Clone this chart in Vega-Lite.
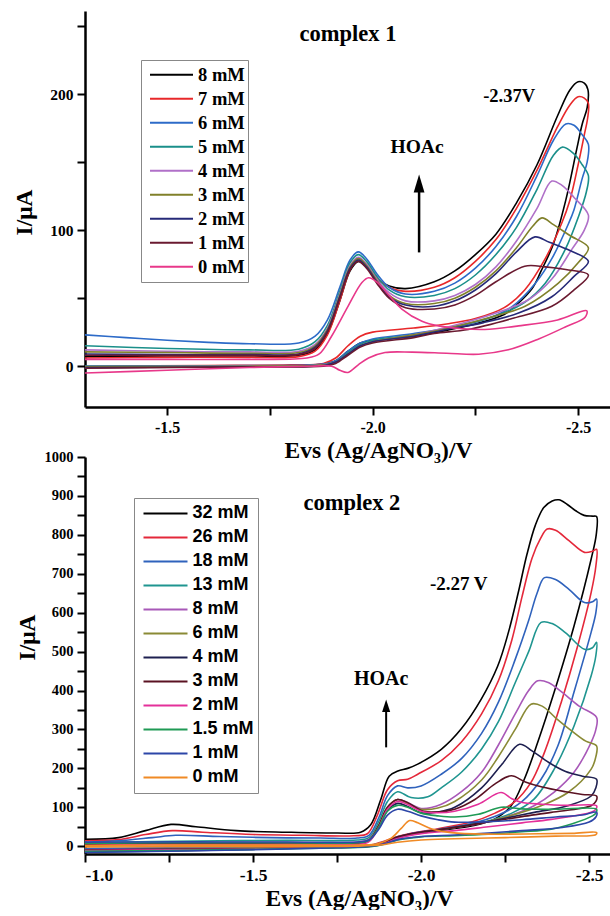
{
 "$schema": "https://vega.github.io/schema/vega-lite/v6.json",
 "background": "white",
 "autosize": {"type": "pad"},
 "padding": {"left": 12, "top": 11, "right": 0, "bottom": 0},
 "bounds": "flush",
 "spacing": 50,
 "resolve": {"scale": {"color": "independent"}, "legend": {"color": "independent"}},
 "config": {
  "view": {"stroke": null},
  "axis": {"grid": false, "domainColor": "#000", "domainWidth": 2.5, "tickColor": "#000", "tickWidth": 2, "tickSize": 8, "labelColor": "#000", "labelFont": "Liberation Serif", "labelFontWeight": "bold", "labelPadding": 4, "titleColor": "#000", "titleFont": "Liberation Serif", "titleFontWeight": "bold", "titleFontSize": 23.5}
 },
 "datasets": {
  "c1": [
{"s":"8 mM","E":-1.3,"I":7},{"s":"8 mM","E":-1.5,"I":7.5},{"s":"8 mM","E":-1.7,"I":7.5},{"s":"8 mM","E":-1.82,"I":8},{"s":"8 mM","E":-1.86,"I":12},{"s":"8 mM","E":-1.89,"I":24},{"s":"8 mM","E":-1.92,"I":48},{"s":"8 mM","E":-1.945,"I":70},{"s":"8 mM","E":-1.965,"I":77},{"s":"8 mM","E":-1.985,"I":73},{"s":"8 mM","E":-2.01,"I":64},{"s":"8 mM","E":-2.04,"I":59},{"s":"8 mM","E":-2.08,"I":57},{"s":"8 mM","E":-2.15,"I":62},{"s":"8 mM","E":-2.2,"I":70},{"s":"8 mM","E":-2.25,"I":82},{"s":"8 mM","E":-2.3,"I":97},{"s":"8 mM","E":-2.35,"I":120},{"s":"8 mM","E":-2.4,"I":148},{"s":"8 mM","E":-2.45,"I":184},{"s":"8 mM","E":-2.48,"I":203},{"s":"8 mM","E":-2.5,"I":209},{"s":"8 mM","E":-2.515,"I":208},{"s":"8 mM","E":-2.524,"I":203},
{"s":"8 mM","E":-2.522,"I":190},{"s":"8 mM","E":-2.51,"I":178},{"s":"8 mM","E":-2.497,"I":160},{"s":"8 mM","E":-2.47,"I":122},{"s":"8 mM","E":-2.44,"I":90},{"s":"8 mM","E":-2.41,"I":70},{"s":"8 mM","E":-2.388,"I":57},{"s":"8 mM","E":-2.35,"I":45},{"s":"8 mM","E":-2.32,"I":38},{"s":"8 mM","E":-2.25,"I":31},{"s":"8 mM","E":-2.19,"I":27},{"s":"8 mM","E":-2.1,"I":22},{"s":"8 mM","E":-2.0,"I":19},{"s":"8 mM","E":-1.97,"I":17},{"s":"8 mM","E":-1.94,"I":11},{"s":"8 mM","E":-1.91,"I":4},{"s":"8 mM","E":-1.88,"I":1.5},{"s":"8 mM","E":-1.8,"I":0},{"s":"8 mM","E":-1.6,"I":-0.5},{"s":"8 mM","E":-1.3,"I":-1},
{"s":"7 mM","E":-1.3,"I":6},{"s":"7 mM","E":-1.5,"I":6.5},{"s":"7 mM","E":-1.7,"I":6.5},{"s":"7 mM","E":-1.82,"I":7},{"s":"7 mM","E":-1.86,"I":11},{"s":"7 mM","E":-1.89,"I":23},{"s":"7 mM","E":-1.92,"I":48},{"s":"7 mM","E":-1.945,"I":71},{"s":"7 mM","E":-1.965,"I":79},{"s":"7 mM","E":-1.985,"I":75},{"s":"7 mM","E":-2.01,"I":65},{"s":"7 mM","E":-2.04,"I":58},{"s":"7 mM","E":-2.08,"I":55},{"s":"7 mM","E":-2.15,"I":58},{"s":"7 mM","E":-2.2,"I":65},{"s":"7 mM","E":-2.25,"I":77},{"s":"7 mM","E":-2.3,"I":93},{"s":"7 mM","E":-2.35,"I":116},{"s":"7 mM","E":-2.4,"I":144},{"s":"7 mM","E":-2.45,"I":176},{"s":"7 mM","E":-2.48,"I":192},{"s":"7 mM","E":-2.5,"I":198},{"s":"7 mM","E":-2.515,"I":197},{"s":"7 mM","E":-2.525,"I":193},
{"s":"7 mM","E":-2.523,"I":182},{"s":"7 mM","E":-2.515,"I":170},{"s":"7 mM","E":-2.5,"I":148},{"s":"7 mM","E":-2.48,"I":122},{"s":"7 mM","E":-2.46,"I":105},{"s":"7 mM","E":-2.42,"I":79},{"s":"7 mM","E":-2.37,"I":56},{"s":"7 mM","E":-2.32,"I":43},{"s":"7 mM","E":-2.25,"I":35},{"s":"7 mM","E":-2.18,"I":31},{"s":"7 mM","E":-2.1,"I":28},{"s":"7 mM","E":-2.0,"I":25},{"s":"7 mM","E":-1.97,"I":22},{"s":"7 mM","E":-1.94,"I":15},{"s":"7 mM","E":-1.91,"I":6},{"s":"7 mM","E":-1.88,"I":2},{"s":"7 mM","E":-1.8,"I":1},{"s":"7 mM","E":-1.6,"I":0.5},{"s":"7 mM","E":-1.3,"I":0},
{"s":"6 mM","E":-1.3,"I":23},{"s":"6 mM","E":-1.4,"I":21},{"s":"6 mM","E":-1.5,"I":19},{"s":"6 mM","E":-1.6,"I":17.5},{"s":"6 mM","E":-1.7,"I":16.5},{"s":"6 mM","E":-1.82,"I":17},{"s":"6 mM","E":-1.86,"I":22},{"s":"6 mM","E":-1.89,"I":34},{"s":"6 mM","E":-1.92,"I":58},{"s":"6 mM","E":-1.945,"I":78},{"s":"6 mM","E":-1.965,"I":84},{"s":"6 mM","E":-1.985,"I":79},{"s":"6 mM","E":-2.01,"I":68},{"s":"6 mM","E":-2.04,"I":58},{"s":"6 mM","E":-2.08,"I":53},{"s":"6 mM","E":-2.15,"I":55},{"s":"6 mM","E":-2.2,"I":61},{"s":"6 mM","E":-2.25,"I":72},{"s":"6 mM","E":-2.3,"I":88},{"s":"6 mM","E":-2.35,"I":110},{"s":"6 mM","E":-2.4,"I":140},{"s":"6 mM","E":-2.44,"I":166},{"s":"6 mM","E":-2.47,"I":178},{"s":"6 mM","E":-2.49,"I":177},{"s":"6 mM","E":-2.51,"I":170},{"s":"6 mM","E":-2.525,"I":163},
{"s":"6 mM","E":-2.522,"I":150},{"s":"6 mM","E":-2.51,"I":138},{"s":"6 mM","E":-2.49,"I":115},{"s":"6 mM","E":-2.477,"I":105},{"s":"6 mM","E":-2.436,"I":79},{"s":"6 mM","E":-2.396,"I":61},{"s":"6 mM","E":-2.34,"I":44},{"s":"6 mM","E":-2.28,"I":35},{"s":"6 mM","E":-2.2,"I":29},{"s":"6 mM","E":-2.1,"I":24},{"s":"6 mM","E":-2.0,"I":20},{"s":"6 mM","E":-1.97,"I":17},{"s":"6 mM","E":-1.94,"I":11},{"s":"6 mM","E":-1.91,"I":4},{"s":"6 mM","E":-1.88,"I":1.5},{"s":"6 mM","E":-1.7,"I":0.5},{"s":"6 mM","E":-1.3,"I":0},
{"s":"5 mM","E":-1.3,"I":15},{"s":"5 mM","E":-1.5,"I":13},{"s":"5 mM","E":-1.7,"I":12},{"s":"5 mM","E":-1.82,"I":12.5},{"s":"5 mM","E":-1.86,"I":18},{"s":"5 mM","E":-1.89,"I":30},{"s":"5 mM","E":-1.92,"I":55},{"s":"5 mM","E":-1.945,"I":76},{"s":"5 mM","E":-1.965,"I":82},{"s":"5 mM","E":-1.985,"I":77},{"s":"5 mM","E":-2.01,"I":66},{"s":"5 mM","E":-2.04,"I":56},{"s":"5 mM","E":-2.08,"I":51},{"s":"5 mM","E":-2.15,"I":52},{"s":"5 mM","E":-2.2,"I":57},{"s":"5 mM","E":-2.25,"I":67},{"s":"5 mM","E":-2.3,"I":82},{"s":"5 mM","E":-2.35,"I":102},{"s":"5 mM","E":-2.4,"I":130},{"s":"5 mM","E":-2.44,"I":155},{"s":"5 mM","E":-2.462,"I":161},{"s":"5 mM","E":-2.49,"I":156},{"s":"5 mM","E":-2.51,"I":148},{"s":"5 mM","E":-2.525,"I":140},
{"s":"5 mM","E":-2.52,"I":128},{"s":"5 mM","E":-2.501,"I":110},{"s":"5 mM","E":-2.469,"I":86},{"s":"5 mM","E":-2.42,"I":61},{"s":"5 mM","E":-2.37,"I":47},{"s":"5 mM","E":-2.3,"I":37},{"s":"5 mM","E":-2.2,"I":29},{"s":"5 mM","E":-2.1,"I":23},{"s":"5 mM","E":-2.0,"I":19},{"s":"5 mM","E":-1.97,"I":16},{"s":"5 mM","E":-1.94,"I":10},{"s":"5 mM","E":-1.91,"I":3},{"s":"5 mM","E":-1.88,"I":1},{"s":"5 mM","E":-1.7,"I":0},{"s":"5 mM","E":-1.3,"I":0},
{"s":"4 mM","E":-1.3,"I":12},{"s":"4 mM","E":-1.5,"I":11},{"s":"4 mM","E":-1.7,"I":10.5},{"s":"4 mM","E":-1.82,"I":11},{"s":"4 mM","E":-1.86,"I":16},{"s":"4 mM","E":-1.89,"I":28},{"s":"4 mM","E":-1.92,"I":53},{"s":"4 mM","E":-1.945,"I":74},{"s":"4 mM","E":-1.965,"I":80},{"s":"4 mM","E":-1.985,"I":75},{"s":"4 mM","E":-2.01,"I":64},{"s":"4 mM","E":-2.04,"I":54},{"s":"4 mM","E":-2.08,"I":48},{"s":"4 mM","E":-2.15,"I":48},{"s":"4 mM","E":-2.2,"I":52},{"s":"4 mM","E":-2.25,"I":60},{"s":"4 mM","E":-2.3,"I":73},{"s":"4 mM","E":-2.35,"I":92},{"s":"4 mM","E":-2.4,"I":116},{"s":"4 mM","E":-2.436,"I":136},{"s":"4 mM","E":-2.46,"I":133},{"s":"4 mM","E":-2.49,"I":124},{"s":"4 mM","E":-2.525,"I":111},
{"s":"4 mM","E":-2.515,"I":100},{"s":"4 mM","E":-2.485,"I":86},{"s":"4 mM","E":-2.436,"I":64},{"s":"4 mM","E":-2.38,"I":49},{"s":"4 mM","E":-2.3,"I":39},{"s":"4 mM","E":-2.2,"I":30},{"s":"4 mM","E":-2.1,"I":23},{"s":"4 mM","E":-2.0,"I":18},{"s":"4 mM","E":-1.97,"I":15},{"s":"4 mM","E":-1.94,"I":9},{"s":"4 mM","E":-1.91,"I":3},{"s":"4 mM","E":-1.88,"I":1},{"s":"4 mM","E":-1.7,"I":0},{"s":"4 mM","E":-1.3,"I":-0.5},
{"s":"3 mM","E":-1.3,"I":10.5},{"s":"3 mM","E":-1.5,"I":10},{"s":"3 mM","E":-1.7,"I":9.5},{"s":"3 mM","E":-1.82,"I":10},{"s":"3 mM","E":-1.86,"I":15},{"s":"3 mM","E":-1.89,"I":27},{"s":"3 mM","E":-1.92,"I":52},{"s":"3 mM","E":-1.945,"I":73},{"s":"3 mM","E":-1.965,"I":79},{"s":"3 mM","E":-1.985,"I":74},{"s":"3 mM","E":-2.01,"I":63},{"s":"3 mM","E":-2.04,"I":52},{"s":"3 mM","E":-2.08,"I":46},{"s":"3 mM","E":-2.15,"I":46},{"s":"3 mM","E":-2.2,"I":50},{"s":"3 mM","E":-2.25,"I":58},{"s":"3 mM","E":-2.3,"I":70},{"s":"3 mM","E":-2.35,"I":87},{"s":"3 mM","E":-2.39,"I":103},{"s":"3 mM","E":-2.412,"I":109},{"s":"3 mM","E":-2.44,"I":104},{"s":"3 mM","E":-2.48,"I":96},{"s":"3 mM","E":-2.525,"I":87},
{"s":"3 mM","E":-2.5,"I":76},{"s":"3 mM","E":-2.452,"I":61},{"s":"3 mM","E":-2.371,"I":44},{"s":"3 mM","E":-2.3,"I":37},{"s":"3 mM","E":-2.2,"I":29},{"s":"3 mM","E":-2.1,"I":23},{"s":"3 mM","E":-2.0,"I":18},{"s":"3 mM","E":-1.97,"I":15},{"s":"3 mM","E":-1.94,"I":9},{"s":"3 mM","E":-1.91,"I":3},{"s":"3 mM","E":-1.88,"I":1},{"s":"3 mM","E":-1.7,"I":0},{"s":"3 mM","E":-1.3,"I":-0.5},
{"s":"2 mM","E":-1.3,"I":9},{"s":"2 mM","E":-1.5,"I":8.5},{"s":"2 mM","E":-1.7,"I":8.5},{"s":"2 mM","E":-1.82,"I":9},{"s":"2 mM","E":-1.86,"I":14},{"s":"2 mM","E":-1.89,"I":26},{"s":"2 mM","E":-1.92,"I":51},{"s":"2 mM","E":-1.945,"I":72},{"s":"2 mM","E":-1.965,"I":78},{"s":"2 mM","E":-1.985,"I":73},{"s":"2 mM","E":-2.01,"I":62},{"s":"2 mM","E":-2.04,"I":51},{"s":"2 mM","E":-2.08,"I":45},{"s":"2 mM","E":-2.15,"I":44},{"s":"2 mM","E":-2.2,"I":48},{"s":"2 mM","E":-2.25,"I":56},{"s":"2 mM","E":-2.3,"I":68},{"s":"2 mM","E":-2.35,"I":84},{"s":"2 mM","E":-2.395,"I":95},{"s":"2 mM","E":-2.43,"I":91},{"s":"2 mM","E":-2.48,"I":85},{"s":"2 mM","E":-2.525,"I":77},
{"s":"2 mM","E":-2.49,"I":66},{"s":"2 mM","E":-2.436,"I":51},{"s":"2 mM","E":-2.355,"I":39},{"s":"2 mM","E":-2.27,"I":32},{"s":"2 mM","E":-2.18,"I":27},{"s":"2 mM","E":-2.1,"I":22},{"s":"2 mM","E":-2.0,"I":18},{"s":"2 mM","E":-1.97,"I":15},{"s":"2 mM","E":-1.94,"I":9},{"s":"2 mM","E":-1.91,"I":3},{"s":"2 mM","E":-1.88,"I":0.5},{"s":"2 mM","E":-1.7,"I":-0.5},{"s":"2 mM","E":-1.3,"I":-1},
{"s":"1 mM","E":-1.3,"I":8},{"s":"1 mM","E":-1.5,"I":8},{"s":"1 mM","E":-1.7,"I":8},{"s":"1 mM","E":-1.82,"I":8.5},{"s":"1 mM","E":-1.86,"I":13},{"s":"1 mM","E":-1.89,"I":25},{"s":"1 mM","E":-1.92,"I":50},{"s":"1 mM","E":-1.945,"I":71},{"s":"1 mM","E":-1.965,"I":77},{"s":"1 mM","E":-1.985,"I":72},{"s":"1 mM","E":-2.01,"I":61},{"s":"1 mM","E":-2.04,"I":50},{"s":"1 mM","E":-2.08,"I":43},{"s":"1 mM","E":-2.15,"I":42},{"s":"1 mM","E":-2.2,"I":45},{"s":"1 mM","E":-2.25,"I":52},{"s":"1 mM","E":-2.3,"I":62},{"s":"1 mM","E":-2.37,"I":73.5},{"s":"1 mM","E":-2.42,"I":73},{"s":"1 mM","E":-2.47,"I":71},{"s":"1 mM","E":-2.525,"I":67},
{"s":"1 mM","E":-2.49,"I":56},{"s":"1 mM","E":-2.436,"I":44},{"s":"1 mM","E":-2.339,"I":35},{"s":"1 mM","E":-2.233,"I":27},{"s":"1 mM","E":-2.15,"I":24},{"s":"1 mM","E":-2.1,"I":21},{"s":"1 mM","E":-2.0,"I":17},{"s":"1 mM","E":-1.97,"I":14},{"s":"1 mM","E":-1.94,"I":8},{"s":"1 mM","E":-1.91,"I":2},{"s":"1 mM","E":-1.88,"I":0},{"s":"1 mM","E":-1.7,"I":-0.5},{"s":"1 mM","E":-1.3,"I":-1.5},
{"s":"0 mM","E":-1.3,"I":5},{"s":"0 mM","E":-1.5,"I":5},{"s":"0 mM","E":-1.7,"I":5},{"s":"0 mM","E":-1.84,"I":6},{"s":"0 mM","E":-1.87,"I":9},{"s":"0 mM","E":-1.9,"I":22},{"s":"0 mM","E":-1.94,"I":44},{"s":"0 mM","E":-1.974,"I":61.5},{"s":"0 mM","E":-1.99,"I":65},{"s":"0 mM","E":-2.01,"I":62},{"s":"0 mM","E":-2.04,"I":52},{"s":"0 mM","E":-2.071,"I":42},{"s":"0 mM","E":-2.12,"I":33},{"s":"0 mM","E":-2.16,"I":29.6},{"s":"0 mM","E":-2.22,"I":27.5},{"s":"0 mM","E":-2.273,"I":27},{"s":"0 mM","E":-2.355,"I":29.6},{"s":"0 mM","E":-2.45,"I":34},{"s":"0 mM","E":-2.521,"I":40.7},
{"s":"0 mM","E":-2.517,"I":36},{"s":"0 mM","E":-2.47,"I":29},{"s":"0 mM","E":-2.404,"I":20},{"s":"0 mM","E":-2.33,"I":12},{"s":"0 mM","E":-2.258,"I":8.8},{"s":"0 mM","E":-2.18,"I":9.5},{"s":"0 mM","E":-2.096,"I":10.3},{"s":"0 mM","E":-2.03,"I":10},{"s":"0 mM","E":-1.99,"I":6},{"s":"0 mM","E":-1.965,"I":1},{"s":"0 mM","E":-1.94,"I":-4.6},{"s":"0 mM","E":-1.92,"I":-3},{"s":"0 mM","E":-1.9,"I":0},{"s":"0 mM","E":-1.85,"I":0},{"s":"0 mM","E":-1.7,"I":-1},{"s":"0 mM","E":-1.5,"I":-3},{"s":"0 mM","E":-1.3,"I":-5}
  ],
  "c2": [
{"s":"32 mM","E":-1.0,"I":18},{"s":"32 mM","E":-1.1,"I":22},{"s":"32 mM","E":-1.18,"I":40},{"s":"32 mM","E":-1.256,"I":56},{"s":"32 mM","E":-1.33,"I":50},{"s":"32 mM","E":-1.45,"I":40},{"s":"32 mM","E":-1.6,"I":36},{"s":"32 mM","E":-1.75,"I":34},{"s":"32 mM","E":-1.82,"I":36},{"s":"32 mM","E":-1.85,"I":55},{"s":"32 mM","E":-1.88,"I":120},{"s":"32 mM","E":-1.905,"I":180},{"s":"32 mM","E":-1.931,"I":193},{"s":"32 mM","E":-1.96,"I":200},{"s":"32 mM","E":-1.99,"I":211},{"s":"32 mM","E":-2.06,"I":249},{"s":"32 mM","E":-2.119,"I":301},{"s":"32 mM","E":-2.179,"I":378},{"s":"32 mM","E":-2.228,"I":463},{"s":"32 mM","E":-2.26,"I":550},{"s":"32 mM","E":-2.29,"I":655},{"s":"32 mM","E":-2.315,"I":750},{"s":"32 mM","E":-2.34,"I":825},{"s":"32 mM","E":-2.365,"I":870},{"s":"32 mM","E":-2.39,"I":887},{"s":"32 mM","E":-2.41,"I":890},{"s":"32 mM","E":-2.435,"I":878},{"s":"32 mM","E":-2.46,"I":862},{"s":"32 mM","E":-2.485,"I":850},{"s":"32 mM","E":-2.51,"I":848},{"s":"32 mM","E":-2.522,"I":847},
{"s":"32 mM","E":-2.521,"I":800},{"s":"32 mM","E":-2.506,"I":738},{"s":"32 mM","E":-2.455,"I":566},{"s":"32 mM","E":-2.396,"I":396},{"s":"32 mM","E":-2.347,"I":267},{"s":"32 mM","E":-2.307,"I":172},{"s":"32 mM","E":-2.268,"I":104},{"s":"32 mM","E":-2.217,"I":69},{"s":"32 mM","E":-2.15,"I":52},{"s":"32 mM","E":-2.05,"I":40},{"s":"32 mM","E":-1.97,"I":30},{"s":"32 mM","E":-1.92,"I":20},{"s":"32 mM","E":-1.88,"I":8},{"s":"32 mM","E":-1.85,"I":2},{"s":"32 mM","E":-1.7,"I":-3},{"s":"32 mM","E":-1.5,"I":-6},{"s":"32 mM","E":-1.25,"I":-9},{"s":"32 mM","E":-1.0,"I":-12},
{"s":"26 mM","E":-1.0,"I":14},{"s":"26 mM","E":-1.1,"I":17},{"s":"26 mM","E":-1.18,"I":30},{"s":"26 mM","E":-1.26,"I":40},{"s":"26 mM","E":-1.35,"I":36},{"s":"26 mM","E":-1.5,"I":30},{"s":"26 mM","E":-1.65,"I":28},{"s":"26 mM","E":-1.8,"I":27},{"s":"26 mM","E":-1.84,"I":32},{"s":"26 mM","E":-1.87,"I":80},{"s":"26 mM","E":-1.9,"I":145},{"s":"26 mM","E":-1.93,"I":168},{"s":"26 mM","E":-1.96,"I":172},{"s":"26 mM","E":-1.99,"I":185},{"s":"26 mM","E":-2.06,"I":220},{"s":"26 mM","E":-2.12,"I":268},{"s":"26 mM","E":-2.18,"I":340},{"s":"26 mM","E":-2.23,"I":425},{"s":"26 mM","E":-2.27,"I":530},{"s":"26 mM","E":-2.3,"I":640},{"s":"26 mM","E":-2.33,"I":740},{"s":"26 mM","E":-2.355,"I":790},{"s":"26 mM","E":-2.375,"I":815},{"s":"26 mM","E":-2.4,"I":812},{"s":"26 mM","E":-2.44,"I":785},{"s":"26 mM","E":-2.486,"I":755},{"s":"26 mM","E":-2.51,"I":758},{"s":"26 mM","E":-2.522,"I":763},
{"s":"26 mM","E":-2.52,"I":720},{"s":"26 mM","E":-2.506,"I":652},{"s":"26 mM","E":-2.466,"I":515},{"s":"26 mM","E":-2.417,"I":370},{"s":"26 mM","E":-2.367,"I":241},{"s":"26 mM","E":-2.327,"I":164},{"s":"26 mM","E":-2.277,"I":113},{"s":"26 mM","E":-2.22,"I":85},{"s":"26 mM","E":-2.15,"I":62},{"s":"26 mM","E":-2.05,"I":45},{"s":"26 mM","E":-1.97,"I":33},{"s":"26 mM","E":-1.92,"I":22},{"s":"26 mM","E":-1.88,"I":10},{"s":"26 mM","E":-1.85,"I":3},{"s":"26 mM","E":-1.7,"I":-2},{"s":"26 mM","E":-1.5,"I":-4},{"s":"26 mM","E":-1.25,"I":-6},{"s":"26 mM","E":-1.0,"I":-8},
{"s":"18 mM","E":-1.0,"I":11},{"s":"18 mM","E":-1.1,"I":14},{"s":"18 mM","E":-1.2,"I":22},{"s":"18 mM","E":-1.27,"I":28},{"s":"18 mM","E":-1.4,"I":25},{"s":"18 mM","E":-1.55,"I":22},{"s":"18 mM","E":-1.7,"I":21},{"s":"18 mM","E":-1.81,"I":21},{"s":"18 mM","E":-1.845,"I":28},{"s":"18 mM","E":-1.875,"I":75},{"s":"18 mM","E":-1.9,"I":130},{"s":"18 mM","E":-1.93,"I":155},{"s":"18 mM","E":-1.96,"I":150},{"s":"18 mM","E":-2.0,"I":155},{"s":"18 mM","E":-2.06,"I":185},{"s":"18 mM","E":-2.12,"I":225},{"s":"18 mM","E":-2.18,"I":290},{"s":"18 mM","E":-2.23,"I":370},{"s":"18 mM","E":-2.28,"I":480},{"s":"18 mM","E":-2.32,"I":580},{"s":"18 mM","E":-2.345,"I":650},{"s":"18 mM","E":-2.367,"I":690},{"s":"18 mM","E":-2.4,"I":685},{"s":"18 mM","E":-2.44,"I":660},{"s":"18 mM","E":-2.486,"I":626},{"s":"18 mM","E":-2.51,"I":628},{"s":"18 mM","E":-2.522,"I":635},
{"s":"18 mM","E":-2.52,"I":600},{"s":"18 mM","E":-2.506,"I":550},{"s":"18 mM","E":-2.455,"I":396},{"s":"18 mM","E":-2.407,"I":258},{"s":"18 mM","E":-2.357,"I":172},{"s":"18 mM","E":-2.298,"I":113},{"s":"18 mM","E":-2.23,"I":80},{"s":"18 mM","E":-2.15,"I":58},{"s":"18 mM","E":-2.05,"I":43},{"s":"18 mM","E":-1.97,"I":32},{"s":"18 mM","E":-1.92,"I":20},{"s":"18 mM","E":-1.88,"I":8},{"s":"18 mM","E":-1.85,"I":2},{"s":"18 mM","E":-1.7,"I":-1},{"s":"18 mM","E":-1.5,"I":-3},{"s":"18 mM","E":-1.25,"I":-4},{"s":"18 mM","E":-1.0,"I":-6},
{"s":"13 mM","E":-1.0,"I":8},{"s":"13 mM","E":-1.2,"I":12},{"s":"13 mM","E":-1.4,"I":14},{"s":"13 mM","E":-1.6,"I":15},{"s":"13 mM","E":-1.81,"I":16},{"s":"13 mM","E":-1.845,"I":22},{"s":"13 mM","E":-1.875,"I":65},{"s":"13 mM","E":-1.9,"I":115},{"s":"13 mM","E":-1.93,"I":140},{"s":"13 mM","E":-1.97,"I":125},{"s":"13 mM","E":-2.02,"I":127},{"s":"13 mM","E":-2.06,"I":150},{"s":"13 mM","E":-2.12,"I":190},{"s":"13 mM","E":-2.18,"I":250},{"s":"13 mM","E":-2.23,"I":320},{"s":"13 mM","E":-2.28,"I":420},{"s":"13 mM","E":-2.32,"I":500},{"s":"13 mM","E":-2.357,"I":575},{"s":"13 mM","E":-2.39,"I":572},{"s":"13 mM","E":-2.43,"I":548},{"s":"13 mM","E":-2.486,"I":506},{"s":"13 mM","E":-2.51,"I":510},{"s":"13 mM","E":-2.522,"I":524},
{"s":"13 mM","E":-2.52,"I":490},{"s":"13 mM","E":-2.506,"I":438},{"s":"13 mM","E":-2.455,"I":309},{"s":"13 mM","E":-2.396,"I":198},{"s":"13 mM","E":-2.336,"I":121},{"s":"13 mM","E":-2.27,"I":85},{"s":"13 mM","E":-2.2,"I":65},{"s":"13 mM","E":-2.1,"I":48},{"s":"13 mM","E":-2.0,"I":36},{"s":"13 mM","E":-1.93,"I":24},{"s":"13 mM","E":-1.89,"I":10},{"s":"13 mM","E":-1.85,"I":2},{"s":"13 mM","E":-1.7,"I":-2},{"s":"13 mM","E":-1.5,"I":-5},{"s":"13 mM","E":-1.25,"I":-8},{"s":"13 mM","E":-1.0,"I":-10},
{"s":"8 mM","E":-1.0,"I":6},{"s":"8 mM","E":-1.2,"I":9},{"s":"8 mM","E":-1.4,"I":10},{"s":"8 mM","E":-1.6,"I":10},{"s":"8 mM","E":-1.81,"I":11},{"s":"8 mM","E":-1.845,"I":18},{"s":"8 mM","E":-1.875,"I":55},{"s":"8 mM","E":-1.9,"I":100},{"s":"8 mM","E":-1.93,"I":120},{"s":"8 mM","E":-1.96,"I":112},{"s":"8 mM","E":-2.0,"I":97},{"s":"8 mM","E":-2.06,"I":108},{"s":"8 mM","E":-2.12,"I":140},{"s":"8 mM","E":-2.18,"I":190},{"s":"8 mM","E":-2.23,"I":260},{"s":"8 mM","E":-2.28,"I":340},{"s":"8 mM","E":-2.32,"I":400},{"s":"8 mM","E":-2.347,"I":425},{"s":"8 mM","E":-2.38,"I":420},{"s":"8 mM","E":-2.42,"I":395},{"s":"8 mM","E":-2.47,"I":360},{"s":"8 mM","E":-2.522,"I":331},
{"s":"8 mM","E":-2.52,"I":300},{"s":"8 mM","E":-2.506,"I":267},{"s":"8 mM","E":-2.455,"I":190},{"s":"8 mM","E":-2.396,"I":139},{"s":"8 mM","E":-2.336,"I":104},{"s":"8 mM","E":-2.27,"I":80},{"s":"8 mM","E":-2.2,"I":63},{"s":"8 mM","E":-2.1,"I":48},{"s":"8 mM","E":-2.0,"I":37},{"s":"8 mM","E":-1.93,"I":24},{"s":"8 mM","E":-1.89,"I":10},{"s":"8 mM","E":-1.85,"I":2},{"s":"8 mM","E":-1.7,"I":-3},{"s":"8 mM","E":-1.5,"I":-6},{"s":"8 mM","E":-1.25,"I":-9},{"s":"8 mM","E":-1.0,"I":-12},
{"s":"6 mM","E":-1.0,"I":5},{"s":"6 mM","E":-1.2,"I":7},{"s":"6 mM","E":-1.4,"I":8},{"s":"6 mM","E":-1.6,"I":8},{"s":"6 mM","E":-1.81,"I":9},{"s":"6 mM","E":-1.845,"I":16},{"s":"6 mM","E":-1.875,"I":55},{"s":"6 mM","E":-1.9,"I":100},{"s":"6 mM","E":-1.93,"I":120},{"s":"6 mM","E":-1.96,"I":110},{"s":"6 mM","E":-2.0,"I":95},{"s":"6 mM","E":-2.05,"I":98},{"s":"6 mM","E":-2.1,"I":115},{"s":"6 mM","E":-2.18,"I":170},{"s":"6 mM","E":-2.23,"I":230},{"s":"6 mM","E":-2.28,"I":300},{"s":"6 mM","E":-2.327,"I":365},{"s":"6 mM","E":-2.36,"I":360},{"s":"6 mM","E":-2.4,"I":330},{"s":"6 mM","E":-2.45,"I":295},{"s":"6 mM","E":-2.49,"I":270},{"s":"6 mM","E":-2.522,"I":258},
{"s":"6 mM","E":-2.52,"I":230},{"s":"6 mM","E":-2.506,"I":198},{"s":"6 mM","E":-2.437,"I":138},{"s":"6 mM","E":-2.357,"I":104},{"s":"6 mM","E":-2.28,"I":82},{"s":"6 mM","E":-2.2,"I":64},{"s":"6 mM","E":-2.1,"I":48},{"s":"6 mM","E":-2.0,"I":36},{"s":"6 mM","E":-1.93,"I":23},{"s":"6 mM","E":-1.89,"I":9},{"s":"6 mM","E":-1.85,"I":1},{"s":"6 mM","E":-1.7,"I":-3},{"s":"6 mM","E":-1.5,"I":-6},{"s":"6 mM","E":-1.25,"I":-9},{"s":"6 mM","E":-1.0,"I":-11},
{"s":"4 mM","E":-1.0,"I":4},{"s":"4 mM","E":-1.2,"I":6},{"s":"4 mM","E":-1.4,"I":7},{"s":"4 mM","E":-1.6,"I":7},{"s":"4 mM","E":-1.81,"I":8},{"s":"4 mM","E":-1.845,"I":14},{"s":"4 mM","E":-1.875,"I":50},{"s":"4 mM","E":-1.9,"I":92},{"s":"4 mM","E":-1.93,"I":110},{"s":"4 mM","E":-1.96,"I":102},{"s":"4 mM","E":-2.0,"I":86},{"s":"4 mM","E":-2.05,"I":88},{"s":"4 mM","E":-2.1,"I":100},{"s":"4 mM","E":-2.18,"I":150},{"s":"4 mM","E":-2.24,"I":210},{"s":"4 mM","E":-2.293,"I":262},{"s":"4 mM","E":-2.33,"I":245},{"s":"4 mM","E":-2.38,"I":215},{"s":"4 mM","E":-2.43,"I":192},{"s":"4 mM","E":-2.48,"I":180},{"s":"4 mM","E":-2.522,"I":172},
{"s":"4 mM","E":-2.52,"I":150},{"s":"4 mM","E":-2.506,"I":129},{"s":"4 mM","E":-2.437,"I":104},{"s":"4 mM","E":-2.337,"I":87},{"s":"4 mM","E":-2.25,"I":72},{"s":"4 mM","E":-2.15,"I":56},{"s":"4 mM","E":-2.05,"I":42},{"s":"4 mM","E":-1.97,"I":32},{"s":"4 mM","E":-1.92,"I":20},{"s":"4 mM","E":-1.88,"I":7},{"s":"4 mM","E":-1.85,"I":1},{"s":"4 mM","E":-1.7,"I":-4},{"s":"4 mM","E":-1.5,"I":-8},{"s":"4 mM","E":-1.25,"I":-12},{"s":"4 mM","E":-1.0,"I":-15},
{"s":"3 mM","E":-1.0,"I":3},{"s":"3 mM","E":-1.2,"I":5},{"s":"3 mM","E":-1.4,"I":6},{"s":"3 mM","E":-1.6,"I":6},{"s":"3 mM","E":-1.81,"I":7},{"s":"3 mM","E":-1.845,"I":14},{"s":"3 mM","E":-1.875,"I":55},{"s":"3 mM","E":-1.9,"I":100},{"s":"3 mM","E":-1.93,"I":120},{"s":"3 mM","E":-1.96,"I":112},{"s":"3 mM","E":-2.0,"I":92},{"s":"3 mM","E":-2.05,"I":88},{"s":"3 mM","E":-2.1,"I":95},{"s":"3 mM","E":-2.16,"I":120},{"s":"3 mM","E":-2.22,"I":160},{"s":"3 mM","E":-2.268,"I":181},{"s":"3 mM","E":-2.31,"I":165},{"s":"3 mM","E":-2.36,"I":152},{"s":"3 mM","E":-2.43,"I":140},{"s":"3 mM","E":-2.48,"I":133},{"s":"3 mM","E":-2.522,"I":129},
{"s":"3 mM","E":-2.52,"I":115},{"s":"3 mM","E":-2.506,"I":104},{"s":"3 mM","E":-2.387,"I":87},{"s":"3 mM","E":-2.3,"I":76},{"s":"3 mM","E":-2.2,"I":62},{"s":"3 mM","E":-2.1,"I":48},{"s":"3 mM","E":-2.0,"I":36},{"s":"3 mM","E":-1.93,"I":24},{"s":"3 mM","E":-1.89,"I":9},{"s":"3 mM","E":-1.85,"I":1},{"s":"3 mM","E":-1.7,"I":-3},{"s":"3 mM","E":-1.5,"I":-6},{"s":"3 mM","E":-1.25,"I":-8},{"s":"3 mM","E":-1.0,"I":-10},
{"s":"2 mM","E":-1.0,"I":2},{"s":"2 mM","E":-1.2,"I":4},{"s":"2 mM","E":-1.4,"I":4},{"s":"2 mM","E":-1.6,"I":5},{"s":"2 mM","E":-1.81,"I":5},{"s":"2 mM","E":-1.845,"I":12},{"s":"2 mM","E":-1.875,"I":50},{"s":"2 mM","E":-1.9,"I":95},{"s":"2 mM","E":-1.93,"I":115},{"s":"2 mM","E":-1.96,"I":107},{"s":"2 mM","E":-2.0,"I":90},{"s":"2 mM","E":-2.05,"I":86},{"s":"2 mM","E":-2.1,"I":90},{"s":"2 mM","E":-2.17,"I":108},{"s":"2 mM","E":-2.238,"I":138},{"s":"2 mM","E":-2.27,"I":122},{"s":"2 mM","E":-2.298,"I":113},{"s":"2 mM","E":-2.36,"I":108},{"s":"2 mM","E":-2.44,"I":105},{"s":"2 mM","E":-2.522,"I":104},
{"s":"2 mM","E":-2.52,"I":95},{"s":"2 mM","E":-2.506,"I":87},{"s":"2 mM","E":-2.387,"I":69},{"s":"2 mM","E":-2.3,"I":60},{"s":"2 mM","E":-2.2,"I":50},{"s":"2 mM","E":-2.1,"I":40},{"s":"2 mM","E":-2.0,"I":32},{"s":"2 mM","E":-1.93,"I":20},{"s":"2 mM","E":-1.89,"I":7},{"s":"2 mM","E":-1.85,"I":0},{"s":"2 mM","E":-1.7,"I":-4},{"s":"2 mM","E":-1.5,"I":-7},{"s":"2 mM","E":-1.25,"I":-9},{"s":"2 mM","E":-1.0,"I":-11},
{"s":"1.5 mM","E":-1.0,"I":7},{"s":"1.5 mM","E":-1.2,"I":9},{"s":"1.5 mM","E":-1.4,"I":9},{"s":"1.5 mM","E":-1.6,"I":9},{"s":"1.5 mM","E":-1.81,"I":9},{"s":"1.5 mM","E":-1.845,"I":15},{"s":"1.5 mM","E":-1.875,"I":50},{"s":"1.5 mM","E":-1.9,"I":90},{"s":"1.5 mM","E":-1.93,"I":105},{"s":"1.5 mM","E":-1.96,"I":100},{"s":"1.5 mM","E":-2.0,"I":85},{"s":"1.5 mM","E":-2.05,"I":78},{"s":"1.5 mM","E":-2.1,"I":75},{"s":"1.5 mM","E":-2.17,"I":82},{"s":"1.5 mM","E":-2.238,"I":100},{"s":"1.5 mM","E":-2.3,"I":96},{"s":"1.5 mM","E":-2.4,"I":95},{"s":"1.5 mM","E":-2.522,"I":95},
{"s":"1.5 mM","E":-2.52,"I":85},{"s":"1.5 mM","E":-2.51,"I":78},{"s":"1.5 mM","E":-2.45,"I":58},{"s":"1.5 mM","E":-2.387,"I":44},{"s":"1.5 mM","E":-2.3,"I":37},{"s":"1.5 mM","E":-2.2,"I":31},{"s":"1.5 mM","E":-2.1,"I":27},{"s":"1.5 mM","E":-2.0,"I":24},{"s":"1.5 mM","E":-1.93,"I":16},{"s":"1.5 mM","E":-1.89,"I":5},{"s":"1.5 mM","E":-1.85,"I":-1},{"s":"1.5 mM","E":-1.7,"I":-5},{"s":"1.5 mM","E":-1.5,"I":-8},{"s":"1.5 mM","E":-1.25,"I":-11},{"s":"1.5 mM","E":-1.0,"I":-13},
{"s":"1 mM","E":-1.0,"I":10},{"s":"1 mM","E":-1.2,"I":11},{"s":"1 mM","E":-1.4,"I":11},{"s":"1 mM","E":-1.6,"I":11},{"s":"1 mM","E":-1.81,"I":11},{"s":"1 mM","E":-1.845,"I":16},{"s":"1 mM","E":-1.875,"I":45},{"s":"1 mM","E":-1.9,"I":80},{"s":"1 mM","E":-1.93,"I":95},{"s":"1 mM","E":-1.96,"I":90},{"s":"1 mM","E":-2.0,"I":78},{"s":"1 mM","E":-2.05,"I":68},{"s":"1 mM","E":-2.1,"I":62},{"s":"1 mM","E":-2.2,"I":63},{"s":"1 mM","E":-2.3,"I":68},{"s":"1 mM","E":-2.4,"I":75},{"s":"1 mM","E":-2.48,"I":80},{"s":"1 mM","E":-2.522,"I":87},
{"s":"1 mM","E":-2.52,"I":75},{"s":"1 mM","E":-2.5,"I":62},{"s":"1 mM","E":-2.42,"I":48},{"s":"1 mM","E":-2.3,"I":40},{"s":"1 mM","E":-2.2,"I":34},{"s":"1 mM","E":-2.1,"I":29},{"s":"1 mM","E":-2.0,"I":25},{"s":"1 mM","E":-1.93,"I":17},{"s":"1 mM","E":-1.89,"I":6},{"s":"1 mM","E":-1.85,"I":0},{"s":"1 mM","E":-1.7,"I":-5},{"s":"1 mM","E":-1.5,"I":-9},{"s":"1 mM","E":-1.25,"I":-13},{"s":"1 mM","E":-1.0,"I":-16},
{"s":"0 mM","E":-1.0,"I":2},{"s":"0 mM","E":-1.2,"I":3},{"s":"0 mM","E":-1.4,"I":3},{"s":"0 mM","E":-1.6,"I":3},{"s":"0 mM","E":-1.82,"I":3},{"s":"0 mM","E":-1.87,"I":6},{"s":"0 mM","E":-1.91,"I":20},{"s":"0 mM","E":-1.94,"I":45},{"s":"0 mM","E":-1.966,"I":66},{"s":"0 mM","E":-1.99,"I":60},{"s":"0 mM","E":-2.03,"I":45},{"s":"0 mM","E":-2.09,"I":35},{"s":"0 mM","E":-2.2,"I":31},{"s":"0 mM","E":-2.35,"I":32},{"s":"0 mM","E":-2.45,"I":33},{"s":"0 mM","E":-2.522,"I":35},
{"s":"0 mM","E":-2.52,"I":30},{"s":"0 mM","E":-2.4,"I":26},{"s":"0 mM","E":-2.25,"I":22},{"s":"0 mM","E":-2.1,"I":19},{"s":"0 mM","E":-2.0,"I":16},{"s":"0 mM","E":-1.93,"I":10},{"s":"0 mM","E":-1.88,"I":3},{"s":"0 mM","E":-1.8,"I":0},{"s":"0 mM","E":-1.6,"I":-1},{"s":"0 mM","E":-1.3,"I":-1},{"s":"0 mM","E":-1.0,"I":-2}
  ]
 },
 "vconcat": [
  {
   "width": 526,
   "height": 396,
   "encoding": {
    "x": {"field": "E", "type": "quantitative", "scale": {"domain": [-1.3, -2.58], "nice": false, "zero": false},
          "axis": {"values": [-1.5, -1.75, -2, -2.25, -2.5], "labelExpr": "abs(datum.value*2 - round(datum.value*2)) < 0.001 ? replace(format(datum.value, '.1f'), '−', '-') : ''", "labelFontSize": 16, "title": "Evs (Ag/AgNO₃)/V", "titleX": 293, "titlePadding": 3}},
    "y": {"field": "I", "type": "quantitative", "scale": {"domain": [-30, 261], "nice": false, "zero": false},
          "axis": {"values": [0, 50, 100, 150, 200, 250], "labelExpr": "datum.value % 100 == 0 ? format(datum.value, 'd') : ''", "labelFontSize": 15.5, "title": "I/μA", "titleX": -61, "titleY": 201, "titleBaseline": "middle"}}
   },
   "layer": [
    {
     "data": {"name": "c1"},
     "mark": {"type": "line", "strokeWidth": 1.6, "interpolate": "catmull-rom"},
     "encoding": {
      "color": {"field": "s", "type": "nominal",
                "scale": {"domain": ["8 mM", "7 mM", "6 mM", "5 mM", "4 mM", "3 mM", "2 mM", "1 mM", "0 mM"],
                          "range": ["#000000", "#e8282a", "#2d6bc8", "#1a8f8a", "#b070c8", "#80802a", "#262a78", "#6a1a30", "#e8388a"]},
                "legend": {"title": null, "orient": "none", "legendX": 56, "legendY": 49, "symbolType": "stroke", "symbolSize": 1849, "symbolStrokeWidth": 2, "labelFont": "Liberation Serif", "labelFontWeight": "bold", "labelFontSize": 18.5, "labelColor": "#000", "strokeColor": "#888", "fillColor": "#fff", "padding": 3, "clipHeight": 23.6, "rowPadding": 0, "labelOffset": 4, "symbolOffset": 5, "labelLimit": 200}},
      "order": {"value": null}
     }
    },
    {
     "data": {"values": [{"t": "complex 1", "E": -1.94, "I": 244}]},
     "mark": {"type": "text", "font": "Liberation Serif", "fontWeight": "bold", "fontSize": 22.5, "color": "#000", "align": "center", "baseline": "middle"},
     "encoding": {"text": {"field": "t"}}
    },
    {
     "data": {"values": [{"t": "-2.37V", "E": -2.332, "I": 198.7}]},
     "mark": {"type": "text", "font": "Liberation Serif", "fontWeight": "bold", "fontSize": 18.5, "color": "#000", "align": "center", "baseline": "middle"},
     "encoding": {"text": {"field": "t"}}
    },
    {
     "data": {"values": [{"t": "HOAc", "E": -2.108, "I": 161.4}]},
     "mark": {"type": "text", "font": "Liberation Serif", "fontWeight": "bold", "fontSize": 19.5, "color": "#000", "align": "center", "baseline": "middle"},
     "encoding": {"text": {"field": "t"}}
    },
    {
     "data": {"values": [{"E": -2.113, "I": 83.6, "I2": 129}]},
     "mark": {"type": "rule", "strokeWidth": 2.5, "color": "#000"},
     "encoding": {"y2": {"field": "I2"}}
    },
    {
     "data": {"values": [{"E": -2.113, "I": 134.3}]},
     "mark": {"type": "point", "shape": "M0,-1L-0.6,1L0.6,1Z", "filled": true, "size": 324, "color": "#000", "opacity": 1},
     "encoding": {}
    }
   ]
  },
  {
   "width": 526,
   "height": 397,
   "encoding": {
    "x": {"field": "E", "type": "quantitative", "scale": {"domain": [-1.0, -2.565], "nice": false, "zero": false},
          "axis": {"values": [-1, -1.25, -1.5, -1.75, -2, -2.25, -2.5], "labelExpr": "abs(datum.value*2 - round(datum.value*2)) < 0.001 ? replace(format(datum.value, '.1f'), '−', '-') : ''", "labelFontSize": 17.5, "title": "Evs (Ag/AgNO₃)/V", "titleX": 274, "titlePadding": 3}},
    "y": {"field": "I", "type": "quantitative", "scale": {"domain": [-20, 1000], "nice": false, "zero": false},
          "axis": {"values": [0, 50, 100, 150, 200, 250, 300, 350, 400, 450, 500, 550, 600, 650, 700, 750, 800, 850, 900, 950, 1000], "labelExpr": "datum.value % 100 == 0 ? format(datum.value, 'd') : ''", "labelFontSize": 14.5, "title": "I/μA", "titleX": -58, "titleY": 180, "titleBaseline": "middle"}}
   },
   "layer": [
    {
     "data": {"name": "c2"},
     "mark": {"type": "line", "strokeWidth": 1.6, "interpolate": "catmull-rom"},
     "encoding": {
      "color": {"field": "s", "type": "nominal",
                "scale": {"domain": ["32 mM", "26 mM", "18 mM", "13 mM", "8 mM", "6 mM", "4 mM", "3 mM", "2 mM", "1.5 mM", "1 mM", "0 mM"],
                          "range": ["#000000", "#e4283a", "#2f62bc", "#1f9590", "#a858b8", "#8a8a35", "#1e2050", "#5a1222", "#e4309a", "#1f9a55", "#2c46a8", "#f08a25"]},
                "legend": {"title": null, "orient": "none", "legendX": 49, "legendY": 41, "symbolType": "stroke", "symbolSize": 1936, "symbolStrokeWidth": 2, "labelFont": "Liberation Sans", "labelFontWeight": "bold", "labelFontSize": 18, "labelColor": "#000", "strokeColor": "#888", "fillColor": "#fff", "padding": 3.5, "clipHeight": 23.8, "rowPadding": 0, "labelOffset": 4, "symbolOffset": 5, "labelLimit": 200}},
      "order": {"value": null}
     }
    },
    {
     "data": {"values": [{"t": "complex 2", "E": -1.794, "I": 883}]},
     "mark": {"type": "text", "font": "Liberation Serif", "fontWeight": "bold", "fontSize": 22.5, "color": "#000", "align": "center", "baseline": "middle"},
     "encoding": {"text": {"field": "t"}}
    },
    {
     "data": {"values": [{"t": "-2.27 V", "E": -2.112, "I": 673.5}]},
     "mark": {"type": "text", "font": "Liberation Serif", "fontWeight": "bold", "fontSize": 19, "color": "#000", "align": "center", "baseline": "middle"},
     "encoding": {"text": {"field": "t"}}
    },
    {
     "data": {"values": [{"t": "HOAc", "E": -1.881, "I": 429}]},
     "mark": {"type": "text", "font": "Liberation Serif", "fontWeight": "bold", "fontSize": 20, "color": "#000", "align": "center", "baseline": "middle"},
     "encoding": {"text": {"field": "t"}}
    },
    {
     "data": {"values": [{"E": -1.896, "I": 254, "I2": 346}]},
     "mark": {"type": "rule", "strokeWidth": 2, "color": "#000"},
     "encoding": {"y2": {"field": "I2"}}
    },
    {
     "data": {"values": [{"E": -1.896, "I": 361}]},
     "mark": {"type": "point", "shape": "M0,-1L-0.65,1L0.65,1Z", "filled": true, "size": 156, "color": "#000", "opacity": 1},
     "encoding": {}
    }
   ]
  }
 ]
}
